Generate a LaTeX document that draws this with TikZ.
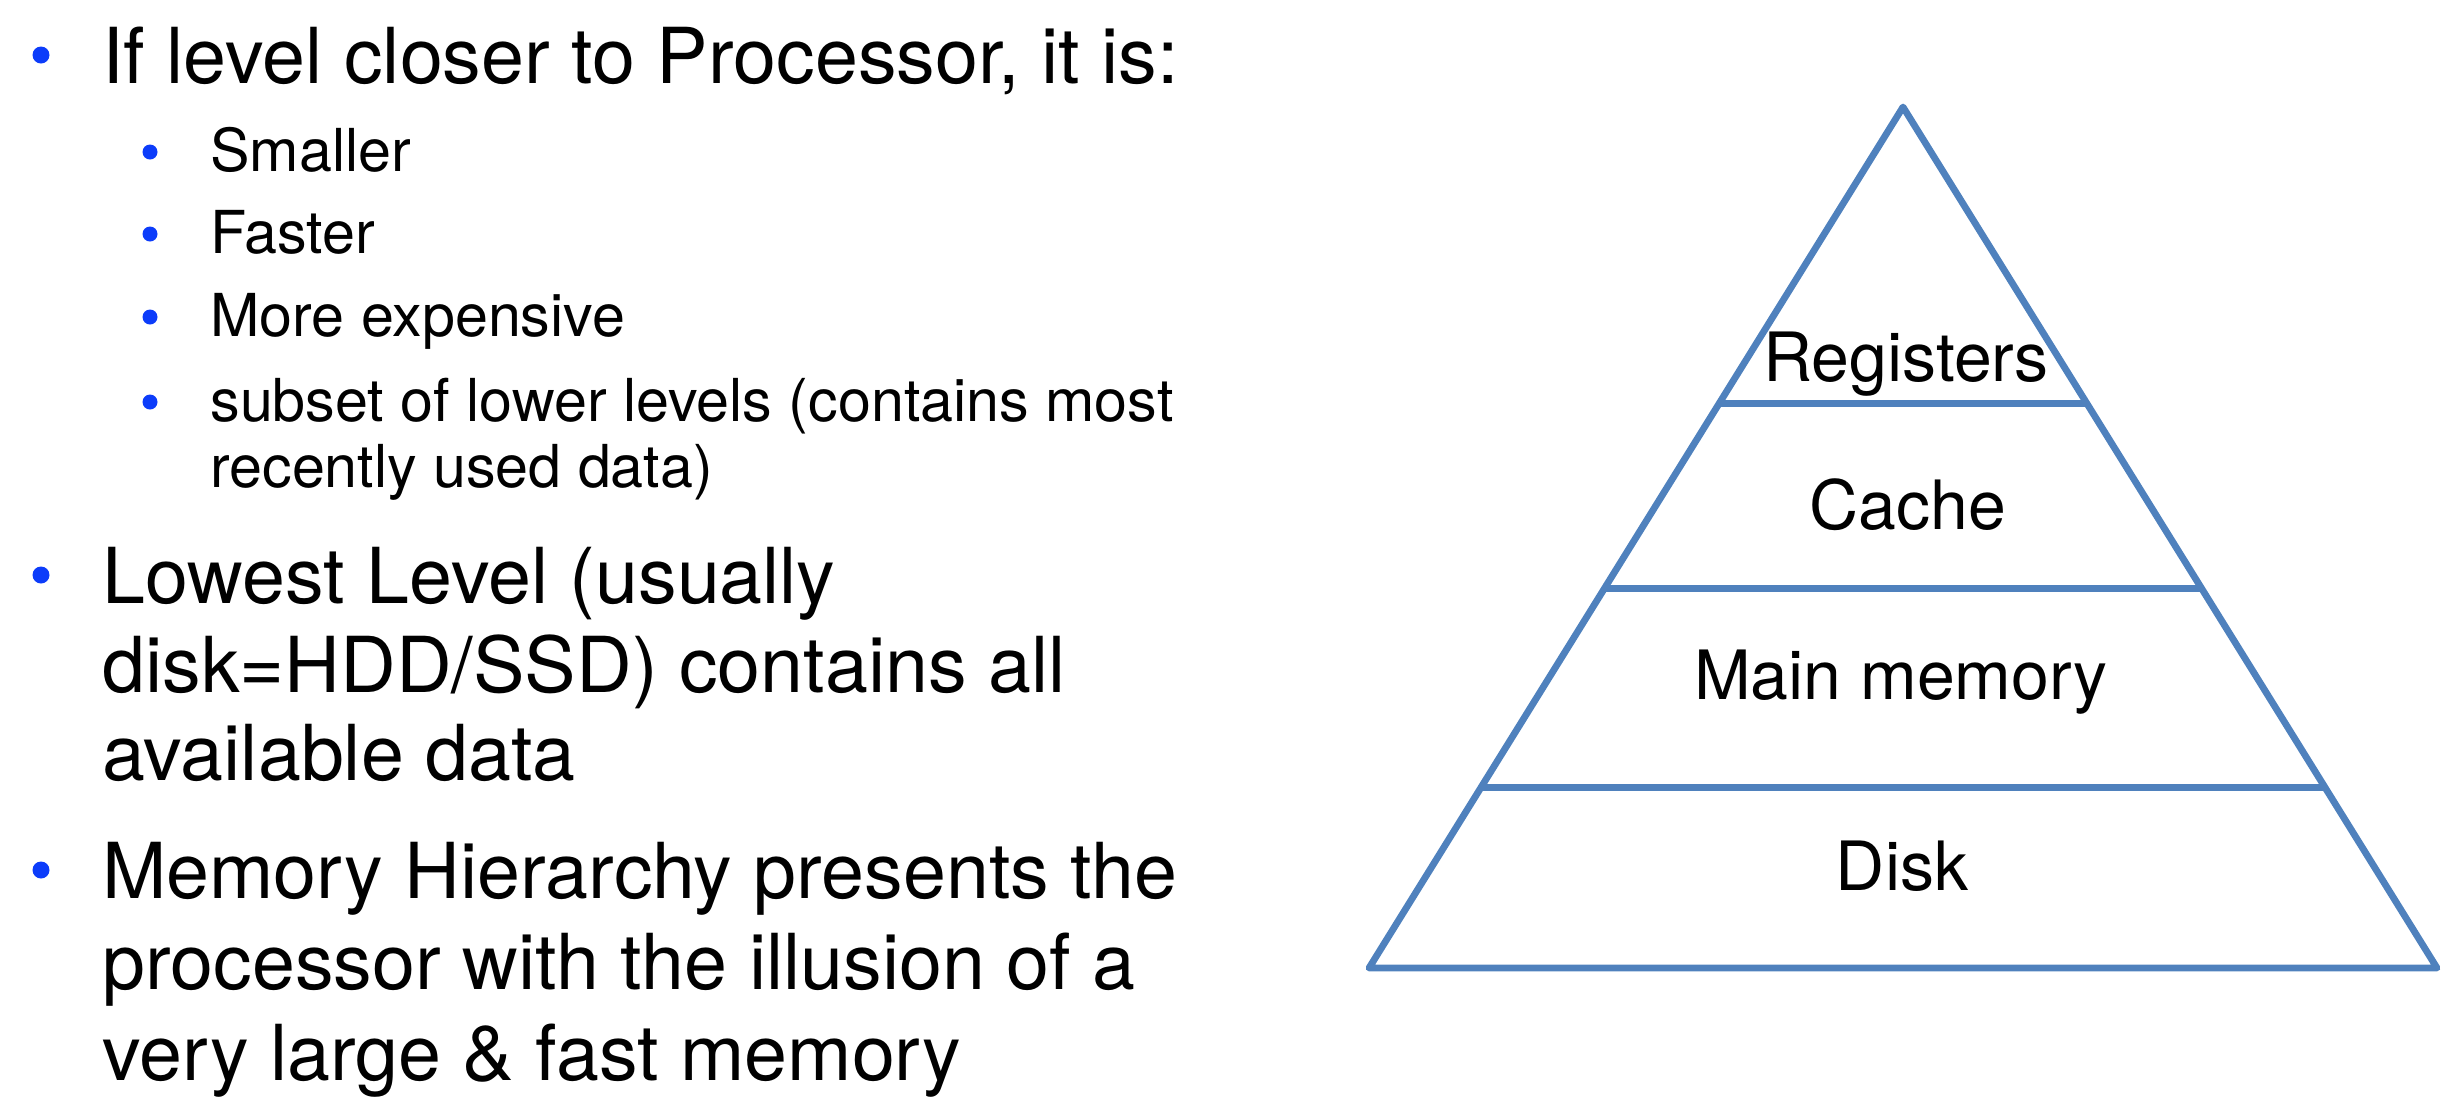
\documentclass[tikz,border=0pt]{standalone}
\usepackage{fontspec}
\setmainfont{TeX Gyre Heros}
\usetikzlibrary{calc}
\definecolor{pyr}{RGB}{79,129,189}
\definecolor{bul}{RGB}{12,60,250}
\begin{document}
\begin{tikzpicture}[x=0.5pt,y=-0.5pt,
  mainline/.style={anchor=base west,inner sep=0pt,font=\fontsize{38.6}{44.75}\selectfont},
  subline/.style={anchor=base west,inner sep=0pt,font=\fontsize{29.6}{33}\selectfont},
  mainbul/.style={circle,fill=bul,draw=none,inner sep=0pt,minimum size=8.5pt},
  subbul/.style={circle,fill=bul,draw=none,inner sep=0pt,minimum size=7.5pt},
  lbl/.style={anchor=base,inner sep=0pt,font=\fontsize{34}{40}\selectfont},
  pyrline/.style={draw=pyr,line width=3.4pt}]
\useasboundingbox (0,0) rectangle (2462,1109);
% left text
\node[mainbul] (b1) at (41,55) {};
\node[mainline] (t1) at (102,83) {If level closer to Processor, it is:};
\node[subbul] (s1) at (150,152) {};
\node[subline] (u1) at (210,171) {Smaller};
\node[subbul] (s2) at (150,234) {};
\node[subline] (u2) at (210,253) {Faster};
\node[subbul] (s3) at (150,317) {};
\node[subline] (u3) at (210,336) {More expensive};
\node[subbul] (s4) at (150,402) {};
\node[subline] (u4) at (210,421) {subset of lower levels (contains most};
\node[subline] (u4b) at (210,487) {recently used data)};
\node[mainbul] (b2) at (41,575) {};
\node[mainline] (t2) at (102,603) {Lowest Level (usually};
\node[mainline] (t2b) at (102,692.5) {disk=HDD/SSD) contains all};
\node[mainline] (t2c) at (102,780.5) {available data};
\node[mainbul] (b3) at (41,870) {};
\node[mainline] (t3) at (102,898) {Memory Hierarchy presents the};
\node[mainline] (t3b) at (102,989) {processor with the illusion of a};
\node[mainline] (t3c) at (102,1080) {very large \& fast memory};
% pyramid
\coordinate (apex) at (1903,107);
\coordinate (bl) at (1369,968);
\coordinate (br) at (2437,968);
\draw[pyrline,line join=round] (apex) -- (bl) -- (br) -- cycle;
\coordinate (l1) at ($(apex)!0.344!(bl)$);
\coordinate (r1) at ($(apex)!0.344!(br)$);
\coordinate (l2) at ($(apex)!0.5592!(bl)$);
\coordinate (r2) at ($(apex)!0.5592!(br)$);
\coordinate (l3) at ($(apex)!0.790!(bl)$);
\coordinate (r3) at ($(apex)!0.790!(br)$);
\draw[pyrline] (l1) -- (r1);
\draw[pyrline] (l2) -- (r2);
\draw[pyrline] (l3) -- (r3);
\node[lbl] (reg) at (1906,381) {Registers};
\node[lbl] (cache) at (1908,529) {Cache};
\node[lbl] (mm) at (1901,699) {Main memory};
\node[lbl] (disk) at (1902,890) {Disk};
\end{tikzpicture}
\end{document}
